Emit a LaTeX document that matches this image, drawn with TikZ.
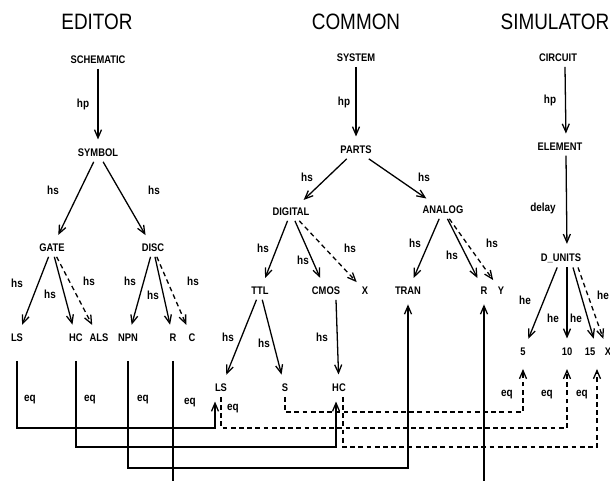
\documentclass[tikz,border=0pt]{standalone}
\usepackage{fontspec}
\setmainfont{Liberation Sans}
\newfontfamily\nodefont[FakeStretch=0.85]{Liberation Sans}
\usetikzlibrary{arrows.meta, calc}

\begin{document}
\begin{tikzpicture}[x=0.03cm, y=-0.03cm]
\tikzstyle{head}=[font=\nodefont\fontsize{19}{22}\selectfont, inner sep=0pt]
\tikzstyle{obj}=[font=\nodefont\bfseries\fontsize{9.4}{11}\selectfont, inner xsep=1.5pt, inner ysep=4pt]
\tikzstyle{lbl}=[font=\nodefont\bfseries\fontsize{10}{12}\selectfont, inner sep=0pt]
\tikzstyle{link}=[line width=1.1pt]
\tikzstyle{arrow}=[link, -{Straight Barb[length=7pt,width=6pt]}, shorten >=4pt]
\tikzstyle{weak}=[arrow, dash pattern=on 4pt off 3pt]

\useasboundingbox (0,0) rectangle (610,481);
\clip (0,0) rectangle (610,481);
\fill[white] (0,0) rectangle (610,481);

\node[head] (teditor) at (97,22) {EDITOR};
\node[head] (tcommon) at (356,22) {COMMON};
\node[head] (tsim) at (555,22) {SIMULATOR};

% editor tree
\node[obj] (schematic) at (98,60) {SCHEMATIC};
\node[obj] (symbol) at (98,153) {SYMBOL};
\node[obj] (gate) at (52,248) {GATE};
\node[obj] (disc) at (153,248) {DISC};
\node[obj] (els) at (17,338) {LS};
\node[obj] (ehc) at (76,338) {HC};
\node[obj] (eals) at (99,338) {ALS};
\node[obj] (npn) at (128,338) {NPN};
\node[obj] (er) at (173,338) {R};
\node[obj] (ec) at (192,338) {C};

% common tree
\node[obj] (system) at (356,58) {SYSTEM};
\node[obj] (parts) at (356,150) {PARTS};
\node[obj] (digital) at (291,212) {DIGITAL};
\node[obj] (analog) at (443,210) {ANALOG};
\node[obj] (ttl) at (260,291) {TTL};
\node[obj] (cmos) at (326,291) {CMOS};
\node[obj] (cx) at (365,291) {X};
\node[obj] (tran) at (408,291) {TRAN};
\node[obj] (cr) at (484,291) {R};
\node[obj] (cy) at (501,291) {Y};
\node[obj] (cls) at (221,388) {LS};
\node[obj] (cs) at (285,388) {S};
\node[obj] (chc) at (339,388) {HC};

% simulator tree
\node[obj] (circuit) at (558,58) {CIRCUIT};
\node[obj] (element) at (560,147) {ELEMENT};
\node[obj] (dunits) at (561,258) {D\_UNITS};
\node[obj] (s5) at (523,352) {5};
\node[obj] (s10) at (567,352) {10};
\node[obj] (s15) at (590,352) {15};
\node[obj] (sx) at (608,352) {X};

% ports and buses of the eq links
\coordinate (lsin) at ($(cls.south)+(-6,0)$);
\coordinate (hcin) at ($(chc.south)+(-3,0)$);
\coordinate (hcout) at ($(chc.south)+(4,0)$);
\coordinate (in15) at ($(s15.south)+(7,0)$);
\coordinate (busa) at (0,412);
\coordinate (busb) at (0,428);
\coordinate (busc) at (0,447);
\coordinate (busd) at (0,468);
\coordinate (buse) at (0,495);

\draw[arrow] (schematic) -- (symbol) node[lbl] at (83,104) {hp};
\draw[arrow] (symbol) -- (gate) node[lbl] at (53,190) {hs};
\draw[arrow] (symbol) -- (disc) node[lbl] at (154,190) {hs};
\draw[arrow] (gate) -- (els) node[lbl] at (17,283) {hs};
\draw[arrow] (gate) -- (ehc) node[lbl] at (50,294) {hs};
\draw[weak] (gate) -- (eals) node[lbl] at (89,281) {hs};
\draw[arrow] (disc) -- (npn) node[lbl] at (130,281) {hs};
\draw[arrow] (disc) -- (er) node[lbl] at (153,295) {hs};
\draw[weak] (disc) -- (ec) node[lbl] at (193,281) {hs};

\draw[arrow] (system) -- (parts) node[lbl] at (344,102) {hp};
\draw[arrow] (parts) -- (digital) node[lbl] at (307,177) {hs};
\draw[arrow] (parts) -- (analog) node[lbl] at (424,177) {hs};
\draw[arrow] (digital) -- (ttl) node[lbl] at (263,248) {hs};
\draw[arrow] (digital) -- (cmos) node[lbl] at (303,260) {hs};
\draw[weak] (digital) -- (cx) node[lbl] at (350,248) {hs};
\draw[arrow] (analog) -- (tran) node[lbl] at (415,243) {hs};
\draw[arrow] (analog) -- (cr) node[lbl] at (452,255) {hs};
\draw[weak] (analog) -- (cy) node[lbl] at (492,243) {hs};
\draw[arrow] (ttl) -- (cls) node[lbl] at (228,337) {hs};
\draw[arrow] (ttl) -- (cs) node[lbl] at (264,343) {hs};
\draw[arrow] (cmos.south -| hcin) -- (chc) node[lbl] at (322,337) {hs};

\draw[arrow] ($(circuit.south)+(7,0)$) -- ($(element.north)+(6,0)$) node[lbl] at (550,100) {hp};
\draw[arrow] ($(element.south)+(6,0)$) -- ($(dunits.north)+(6,0)$) node[lbl] at (543,208) {delay};
\draw[arrow] (dunits) -- (s5) node[lbl] at (525,300) {he};
\draw[arrow] ($(dunits.south)+(6,0)$) -- (s10) node[lbl] at (553,318) {he};
\draw[arrow] ($(dunits.south)+(12,0)$) -- ($(s15.north)+(5,0)$) node[lbl] at (576,318) {he};
\draw[weak] ($(dunits.south)+(17,0)$) -- (sx) node[lbl] at (603,295) {he};

% eq links
\draw[arrow, shorten <=12pt] (els) -- (els |- busb) -| (lsin) node[lbl] at (30,400) {eq};
\draw[arrow, shorten <=12pt] (ehc) -- (ehc |- busc) -| (hcin) node[lbl] at (90,400) {eq};
\draw[arrow, shorten <=12pt] (npn) -- (npn |- busd) -| (tran) node[lbl] at (143,400) {eq};
\draw[arrow, shorten <=12pt] (er) -- (er |- buse) -| (cr) node[lbl] at (190,403) {eq};
\draw[weak, shorten >=7pt] (cls) |- (s10 |- busb) -- (s10) node[lbl] at (233,409) {eq} node[lbl] at (547,395) {eq};
\draw[weak, shorten >=7pt] (cs) |- (s5 |- busa) -- (s5) node[lbl] at (507,395) {eq};
\draw[weak, shorten >=7pt] (hcout) |- (in15 |- busc) -- (in15) node[lbl] at (582,395) {eq};

\end{tikzpicture}
\end{document}
